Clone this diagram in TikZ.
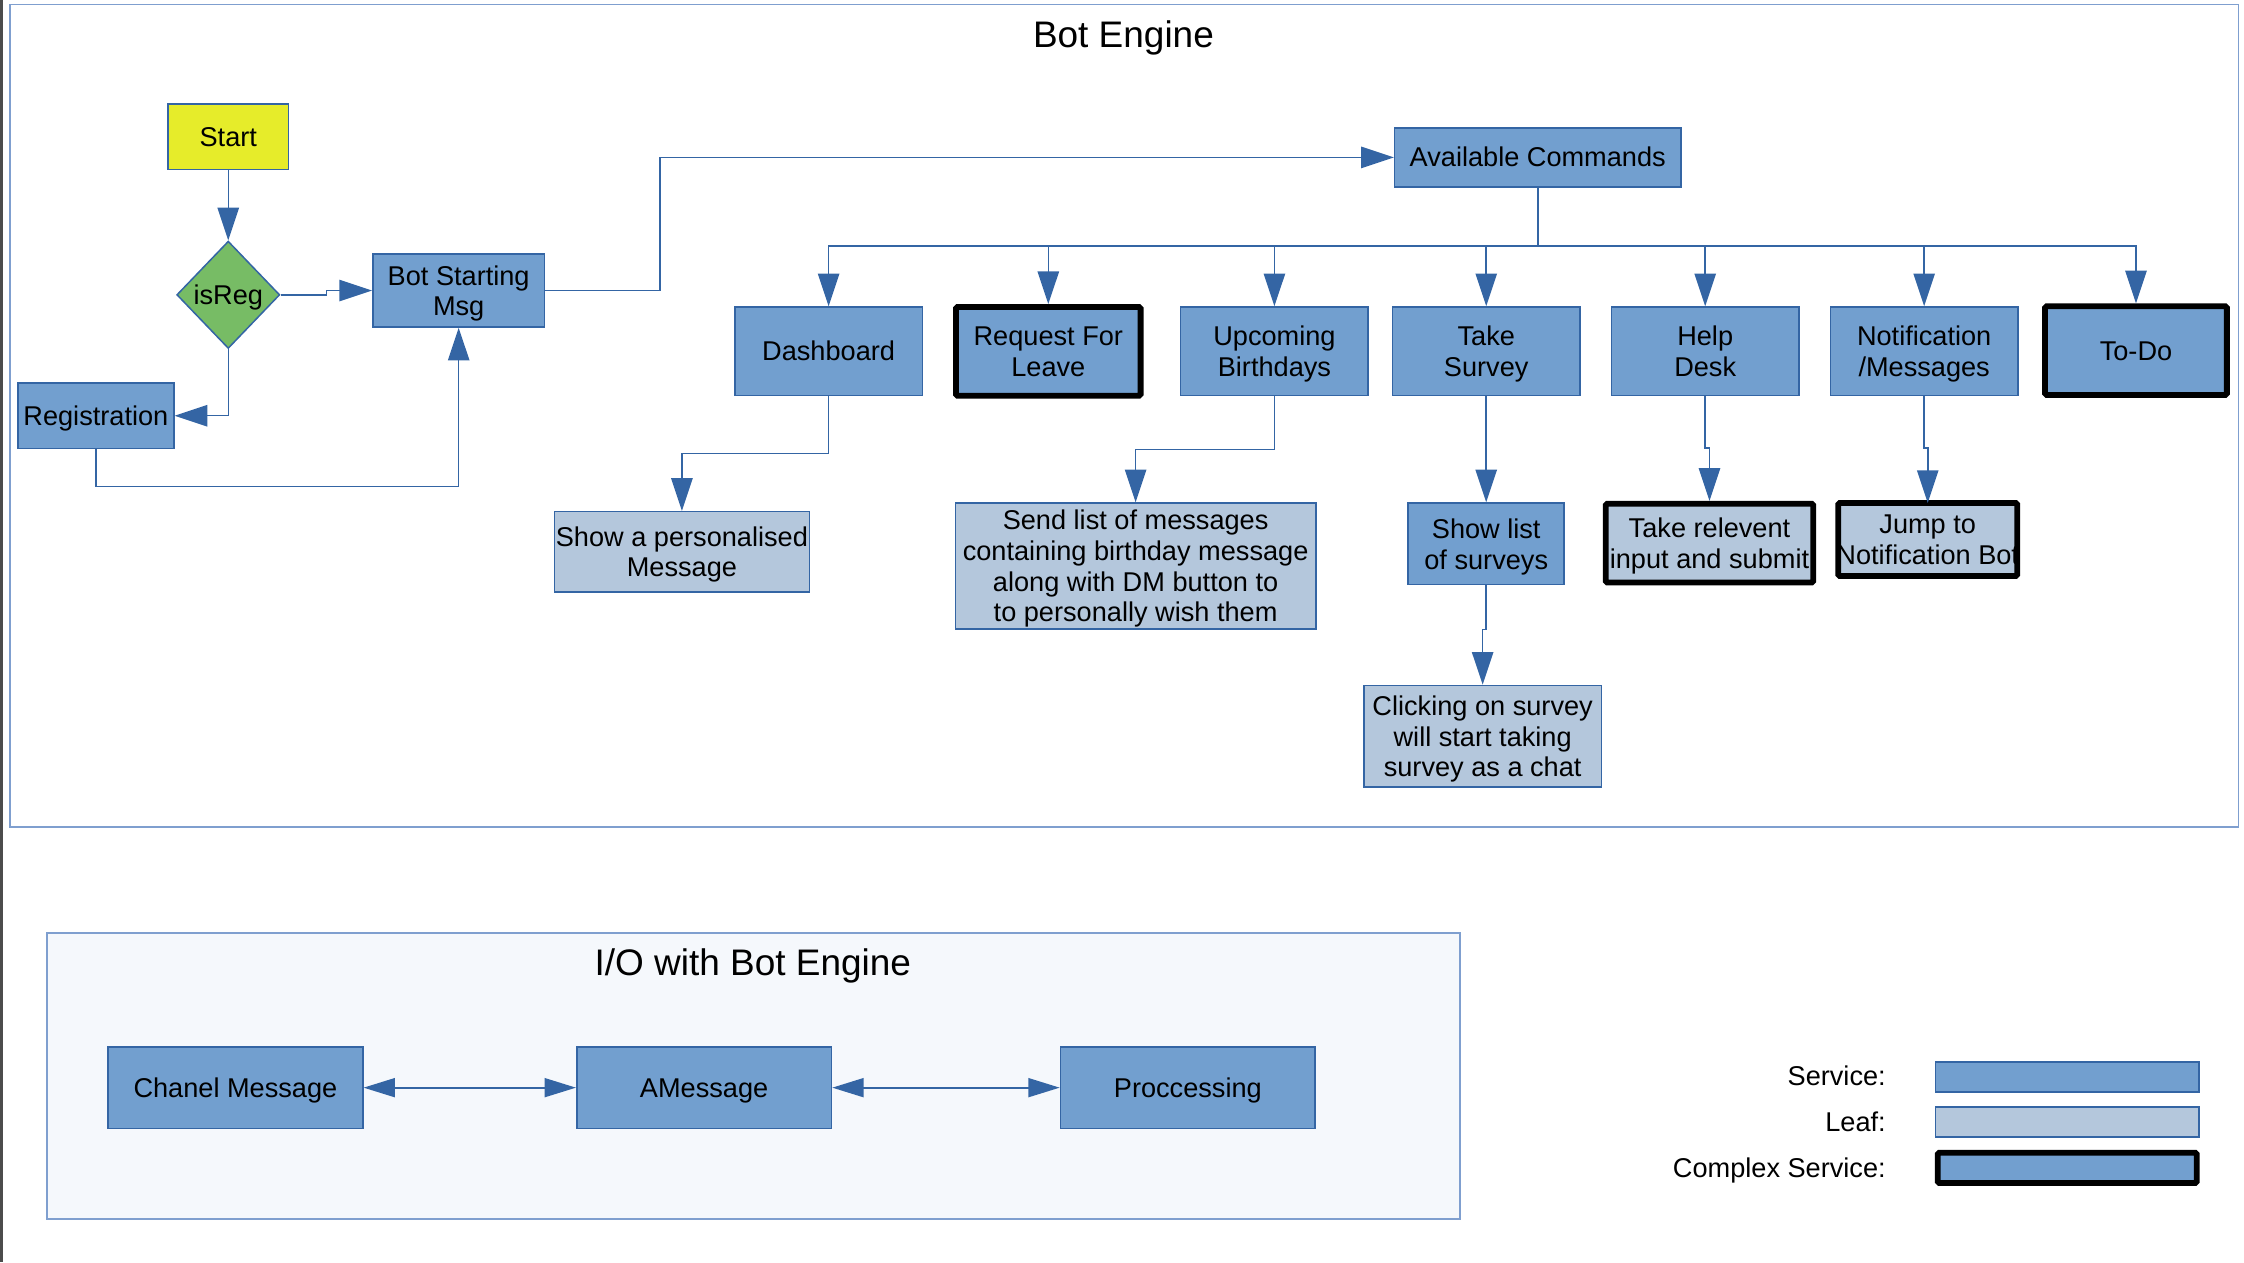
\documentclass[tikz,border=0pt]{standalone}
\usepackage{fontspec}
\setmainfont{Liberation Sans}
\usepackage{tikz}
\usetikzlibrary{calc}
\usetikzlibrary{arrows.meta}
\usetikzlibrary{shapes.geometric}

\definecolor{svcfill}{HTML}{729FCF}
\definecolor{svcline}{HTML}{3465A4}
\definecolor{leaffill}{HTML}{B4C7DC}
\definecolor{startfill}{HTML}{E6EC2A}
\definecolor{regfill}{HTML}{77BC65}
\definecolor{framefill}{HTML}{F5F8FC}
\definecolor{frameline}{HTML}{7F9FCF}

\newcommand\unitpx{0.02cm}
\newcommand\boxfont{\fontsize{10.8}{12.2}\selectfont}
\newcommand\titlefont{\fontsize{14.7}{17}\selectfont}
\newcommand\linestrut{\vrule height 0.905em depth 0.212em width 0pt}

\begin{document}
\begin{tikzpicture}[x=\unitpx,y=-\unitpx]
        \tikzset{boxsize/.style 2 args={minimum width=#1*\unitpx,minimum height=#2*\unitpx},
                 struts/.style={execute at begin node=\linestrut,execute at end node=\linestrut},
                 lines/.style={text depth=-0.5pt},
                 service/.style={draw=svcline,fill=svcfill,line width=0.6pt,inner sep=0pt,align=center,font=\boxfont,struts},
                 leaf/.style={service,fill=leaffill},
                 complex/.style={draw=black,line width=2.3pt,rounded corners=0.6pt},
                 link/.style={draw=svcline,line width=0.6pt,-{Triangle[length=13pt,width=8.5pt]}},
                 duplex/.style={draw=svcline,line width=0.9pt,{Triangle[length=12.5pt,width=7.5pt]}-{Triangle[length=12.5pt,width=7.5pt]}},
                 label/.style={inner sep=0pt,font=\boxfont,struts},
                 heading/.style={inner sep=0pt,font=\titlefont,struts}}
        
        \useasboundingbox (0,0) rectangle (1568,882);
        \draw [line width=2*\unitpx,color=black!70] (1,0) -- (1,882);
        
        %Bot Engine
        \draw [frameline,line width=0.6pt] (7,3) rectangle (1564,578);
        \node[heading] (enginetitle) at (785,24) {Bot Engine};
        
        \node[service,fill=startfill,boxsize={84}{46}] (start) at (159.5,95.5) {Start};
        \node[service,fill=regfill,diamond,boxsize={72}{75}] (isreg) at (159.5,206) {isReg};
        \node[service,lines,boxsize={120}{51}] (botmsg) at (320.5,203) {Bot Starting\\Msg};
        \node[service,boxsize={109}{46}] (reg) at (67,290.5) {Registration};
        \node[service,boxsize={200}{41}] (avail) at (1074.5,110) {Available Commands};
        
        %commands
        \node[service,boxsize={131}{62}] (dash) at (579,245.5) {Dashboard};
        \node[service,lines,complex,boxsize={129}{62}] (leave) at (732.5,245.5) {Request For\\Leave};
        \node[service,lines,boxsize={131}{62}] (bday) at (890.5,245.5) {Upcoming\\Birthdays};
        \node[service,lines,boxsize={131}{62}] (survey) at (1038.5,245.5) {Take\\Survey};
        \node[service,lines,boxsize={131}{62}] (help) at (1191.5,245.5) {Help\\Desk};
        \node[service,lines,boxsize={131}{62}] (notif) at (1344.5,245.5) {Notification\\/Messages};
        \node[service,complex,boxsize={127}{62}] (todo) at (1492.5,245) {To-Do};
        
        %results
        \node[leaf,lines,boxsize={178}{56}] (persmsg) at (476.5,385.5) {Show a personalised\\Message};
        \node[leaf,lines,boxsize={252}{88}] (bdaylist) at (793.5,395.5) {Send list of messages\\containing birthday message\\along with DM button to\\to personally wish them};
        \node[service,lines,boxsize={109}{57}] (surveylist) at (1038.5,380) {Show list\\of surveys};
        \node[leaf,lines,boxsize={166}{71}] (surveychat) at (1036,514.5) {Clicking on survey\\will start taking\\survey as a chat};
        \node[leaf,lines,complex,boxsize={145}{55}] (helpinput) at (1194.5,379.5) {Take relevent\\input and submit};
        \node[leaf,lines,boxsize={124}{50}] (jump) at (1347,377) {Jump to\\\makebox[0pt]{Notification Bot}};
        \draw [complex] (jump.north west) rectangle (jump.south east);
        
        \draw [link] (start.south) -- (isreg.north);
        \draw [link] (isreg.east) -- ++(32,0) |- (botmsg.west);
        \draw [link] (isreg.south) |- (reg.east);
        \draw [link] (reg.south) -- ++(0,26) -| (botmsg.south);
        \draw [link] (botmsg.east) -- ++(80,0) |- (avail.west);
        \foreach \cmd in {dash,leave,bday,survey,help,notif,todo}
            \draw [link] (avail.south) -- ++(0,41) -| (\cmd.north);
        \draw [link] (dash.south) -- ++(0,40) -| (persmsg.north);
        \draw [link] (bday.south) -- ++(0,37) -| (bdaylist.north);
        \draw [link] (survey.south) -- (surveylist.north);
        \draw [link] (surveylist.south) -- ++(0,31) -| (surveychat.north);
        \draw [link] (help.south) -- ++(0,36) -| (helpinput.north);
        \draw [link] (notif.south) -- ++(0,36) -| (jump.north);
        
        %I/O
        \draw [fill=framefill,draw=frameline,line width=0.9pt] (33,652) rectangle (1020,852);
        \node[heading] (iotitle) at (526,673) {I/O with Bot Engine};
        \node[service,boxsize={178}{57}] (chanel) at (164.5,760) {Chanel Message};
        \node[service,boxsize={178}{57}] (amsg) at (492,760) {AMessage};
        \node[service,boxsize={178}{57}] (proc) at (830,760) {Proccessing};
        \draw [duplex] (chanel) -- (amsg);
        \draw [duplex] (amsg) -- (proc);
        
        %legend
        \node[label,anchor=east] (svclabel) at (1318,752) {Service:};
        \node[label,anchor=east] (leaflabel) at (1318,784) {Leaf:};
        \node[label,anchor=east] (cpxlabel) at (1318,816) {Complex Service:};
        \node[service,boxsize={184}{20}] (svckey) at (1444.5,752.5) {};
        \node[leaf,boxsize={184}{21}] (leafkey) at (1444.5,784) {};
        \node[service,complex,boxsize={181}{18}] (cpxkey) at (1444.5,816) {};
\end{tikzpicture}
\end{document}
